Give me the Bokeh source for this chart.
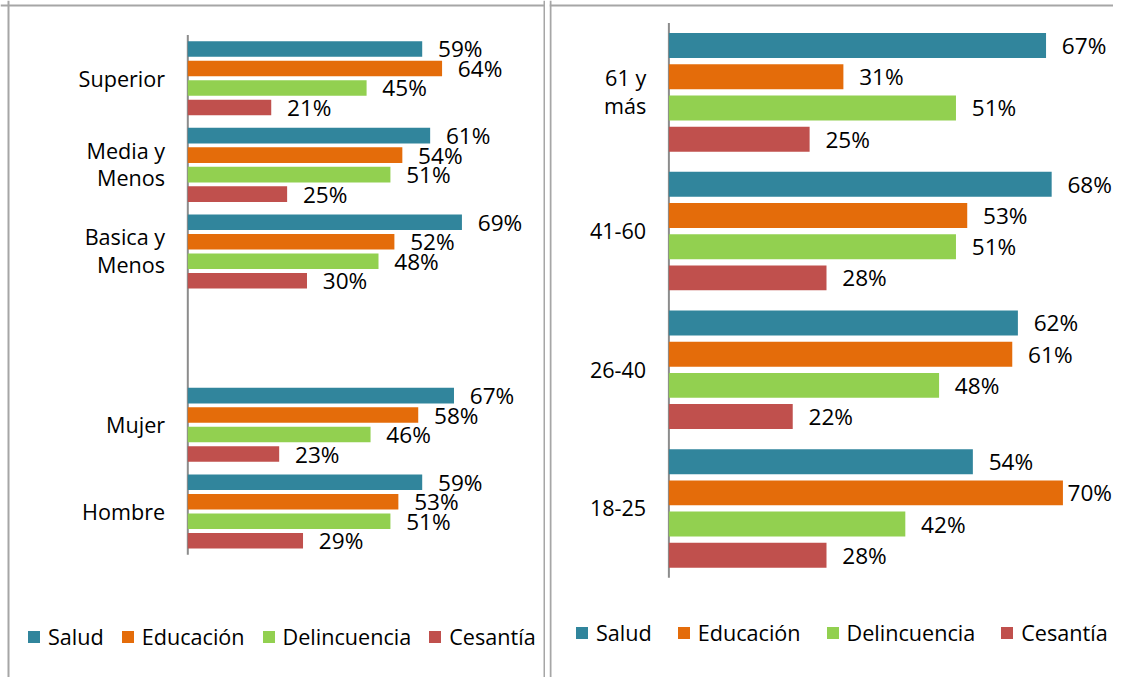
from bokeh.plotting import figure
from bokeh.models import Range1d, ColumnDataSource, Legend, LegendItem, Span
from bokeh.layouts import row
from bokeh.core.properties import value
from bokeh.embed import file_html
from bokeh.resources import INLINE

# ---------------- data ----------------
series = ["Salud", "Educación", "Delincuencia", "Cesantía"]
colors = ["#31859c", "#e46c0a", "#92d050", "#c0504d"]

# left panel (top to bottom, " " is an empty spacer row)
left_order = ["Superior", "Media y Menos", "Basica y Menos", " ", "Mujer", "Hombre"]
left_cats = ["Superior", "Media y Menos", "Basica y Menos", "Mujer", "Hombre"]
left_salud = [59, 61, 69, 67, 59]
left_educacion = [64, 54, 52, 58, 53]
left_delincuencia = [45, 51, 48, 46, 51]
left_cesantia = [21, 25, 30, 23, 29]

# right panel (top to bottom)
right_order = ["61 y más", "41-60", "26-40", "18-25"]
right_cats = ["61 y más", "41-60", "26-40", "18-25"]
right_salud = [67, 68, 62, 54]
right_educacion = [31, 53, 61, 70]
right_delincuencia = [51, 51, 48, 42]
right_cesantia = [25, 28, 22, 28]

FONT = "Open Sans"
BORDER = "#a6a6a6"
SX = 1113 / 1129
SY = 677 / 693
FS = (SX + SY) / 2


def make_panel(order, cats, values, W, H, axis_x, px_per_unit, top_px, cat_px,
               legend_loc, legend_spacing, borders):
    n = len(order)
    bottom_px = H - top_px - n * cat_px
    p = figure(width=W, height=H, output_backend="svg", toolbar_location=None,
               x_range=Range1d(-axis_x / px_per_unit, (W - axis_x) / px_per_unit),
               y_range=Range1d(-bottom_px / cat_px, n + top_px / cat_px),
               x_axis_location=None, y_axis_location=None,
               min_border=0, min_border_left=0, min_border_right=0,
               min_border_top=0, min_border_bottom=0)
    p.outline_line_color = None
    p.xgrid.visible = False
    p.ygrid.visible = False
    p.background_fill_color = "white"
    p.border_fill_color = "white"

    ycenter = {c: n - order.index(c) - 0.5 for c in cats}

    # axis line
    p.segment(x0=[0], y0=[0], x1=[0], y1=[n], line_color="#8c8c8c", line_width=2)

    # category labels (two lines when the label contains " y ")
    lx, ly, lt, lo = [], [], [], []
    for c in cats:
        if " y " in c:
            a, b = c.split(" y ", 1)
            lines = [a + " y", b]
            offs = [-15 * SY, 13 * SY]
        else:
            lines = [c]
            offs = [0]
        for t, o in zip(lines, offs):
            lx.append(0)
            ly.append(ycenter[c])
            lt.append(t)
            lo.append(o)
    p.text(x="x", y="y", text="t", y_offset="o",
           source=ColumnDataSource(dict(x=lx, y=ly, t=lt, o=lo)),
           x_offset=-23 * SX, text_align="right", text_baseline="middle",
           text_font=value(FONT), text_font_size=f"{22 * FS:.1f}px",
           text_color="black")

    slot = 0.225
    frame_w = W - axis_x
    text_w = 46
    gap = 16 * SX
    items = []
    for i, (name, col, vals) in enumerate(zip(series, colors, values)):
        off = (1.5 - i) * slot
        ys = [ycenter[c] + off for c in cats]
        xoff = []
        for v in vals:
            px = v * px_per_unit
            if px + gap + text_w <= frame_w:
                xoff.append(gap)
            else:
                xoff.append(max(2, frame_w - px - text_w))
        src = ColumnDataSource(dict(y=ys, val=vals,
                                    txt=[f"{v}%" for v in vals], xoff=xoff))
        r = p.hbar(y="y", left=0, right="val", height=0.18, source=src,
                   fill_color=col, line_color=None)
        p.text(x="val", y="y", text="txt", x_offset="xoff", source=src,
               text_font=value(FONT), text_font_size=f"{23 * FS:.1f}px",
               text_color="black", text_baseline="middle", text_align="left")
        items.append(LegendItem(label=name, renderers=[r]))

    leg = Legend(items=items, orientation="horizontal", location=legend_loc,
                 glyph_width=15, glyph_height=15, label_standoff=7,
                 spacing=legend_spacing, padding=0, margin=0,
                 border_line_color=None, background_fill_alpha=0,
                 label_text_font=FONT, label_text_font_size=f"{22 * FS:.1f}px",
                 label_text_color="black")
    p.add_layout(leg)

    # panel border lines (screen units; horizontal ones count from the bottom)
    for dim, loc in borders:
        p.add_layout(Span(location=loc, dimension=dim, location_units="screen",
                          line_color=BORDER, line_width=2))
    return p


H = 677
p1 = make_panel(left_order, left_cats,
                [left_salud, left_educacion, left_delincuencia, left_cesantia],
                W=545, H=H, axis_x=190 * SX, px_per_unit=4.03 * SX,
                top_px=35.2 * SY, cat_px=88.7 * SY,
                legend_loc=(round(26 * SX), 26), legend_spacing=16,
                borders=[("height", 8), ("height", 544), ("width", H - 5)])
p2 = make_panel(right_order, right_cats,
                [right_salud, right_educacion, right_delincuencia, right_cesantia],
                W=564, H=H, axis_x=678 * SX - 549, px_per_unit=5.71 * SX,
                top_px=23 * SY, cat_px=142 * SY,
                legend_loc=(round(582 * SX - 549), 30), legend_spacing=24,
                borders=[("height", 1), ("width", H - 5)])

layout = row(p1, p2, spacing=4)
open("out.html", "w").write(file_html(layout, INLINE))
